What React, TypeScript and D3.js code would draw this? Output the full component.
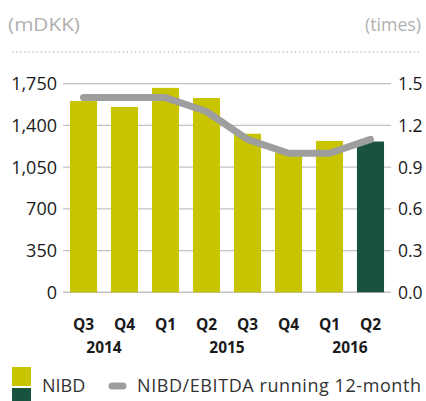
import React from "react";
import * as d3 from "d3";

const quarters = ["Q3", "Q4", "Q1", "Q2", "Q3", "Q4", "Q1", "Q2"];
const years = [
  { label: "2014", from: 0, to: 1 },
  { label: "2015", from: 3, to: 4 },
  { label: "2016", from: 6, to: 7 },
];
const nibd = [1605, 1555, 1715, 1630, 1330, 1170, 1270, 1265];
const ratio = [1.4, 1.4, 1.4, 1.3, 1.1, 1.0, 1.0, 1.1];
const leftTicks = [0, 350, 700, 1050, 1400, 1750];
const rightTicks = [0, 0.3, 0.6, 0.9, 1.2, 1.5];

const W = 426;
const H = 401;
const YELLOW = "#c8c400";
const GREEN = "#1a5240";
const LINEGRAY = "#9e9e9e";
const FONT = "'Open Sans', sans-serif";

export default function App() {
  const x = d3
    .scaleBand<number>()
    .domain(d3.range(quarters.length))
    .range([63, 391])
    .paddingInner(0.34)
    .paddingOuter(0.17);
  const yL = d3.scaleLinear().domain([0, 1750]).range([292.3, 83.7]);
  const yR = d3.scaleLinear().domain([0, 1.5]).range([292.3, 83.7]);
  const cx = (i: number) => (x(i) as number) + x.bandwidth() / 2;
  const line = d3
    .line<number>()
    .x((_, i) => cx(i))
    .y((d) => yR(d))
    .curve(d3.curveLinear);

  return (
    <svg width={W} height={H} style={{ position: "absolute", left: 0, top: 0 }}>
      <rect width={W} height={H} fill="#fff" />
      <text x={8} y={31} fontFamily={FONT} fontSize={19} fill="#b0b0b0" textLength={72} lengthAdjust="spacingAndGlyphs">
        (mDKK)
      </text>
      <text x={365} y={31} fontFamily={FONT} fontSize={19} fill="#b0b0b0" textLength={56} lengthAdjust="spacingAndGlyphs">
        (times)
      </text>
      <line x1={12} x2={419} y1={52} y2={52} stroke="#9a9a9a" strokeWidth={1.2} strokeDasharray="1.2 2.9" />

      {leftTicks.map((t) => (
        <line key={"g" + t} x1={63} x2={391} y1={yL(t)} y2={yL(t)} stroke="#c2c2c2" strokeWidth={t === 0 ? 1.6 : 1.2} />
      ))}

      {nibd.map((v, i) => (
        <rect
          key={"b" + i}
          x={x(i)}
          y={yL(v)}
          width={x.bandwidth()}
          height={yL(0) - yL(v)}
          fill={i === nibd.length - 1 ? GREEN : YELLOW}
        />
      ))}

      <path d={line(ratio) || ""} fill="none" stroke={LINEGRAY} strokeWidth={7} strokeLinecap="round" strokeLinejoin="round" />

      {leftTicks.map((t) => (
        <text key={"l" + t} x={57} y={yL(t) + 6.5} textAnchor="end" fontFamily={FONT} fontSize={18} fill="#1a1a1a">
          {d3.format(",")(t)}
        </text>
      ))}
      {rightTicks.map((t) => (
        <text key={"r" + t} x={398} y={yR(t) + 6.5} fontFamily={FONT} fontSize={17.5} fill="#1a1a1a">
          {t.toFixed(1)}
        </text>
      ))}

      {quarters.map((q, i) => (
        <text key={"q" + i} x={cx(i)} y={330} textAnchor="middle" fontFamily={FONT} fontWeight={700} fontSize={15.5} fill="#1a1a1a">
          {q}
        </text>
      ))}
      {years.map((yv) => (
        <text
          key={yv.label}
          x={(cx(yv.from) + cx(yv.to)) / 2}
          y={353}
          textAnchor="middle"
          fontFamily={FONT}
          fontWeight={700}
          fontSize={15.5}
          fill="#1a1a1a"
        >
          {yv.label}
        </text>
      ))}

      <rect x={12} y={367} width={19} height={19} fill={YELLOW} />
      <rect x={12} y={388} width={19} height={19} fill={GREEN} />
      <text x={42} y={392} fontFamily={FONT} fontSize={18} fill="#333">
        NIBD
      </text>
      <line x1={112} x2={123} y1={386} y2={386} stroke={LINEGRAY} strokeWidth={7} strokeLinecap="round" />
      <text x={137} y={392} fontFamily={FONT} fontSize={18} fill="#333" textLength={284}>
        NIBD/EBITDA running 12-month
      </text>
    </svg>
  );
}
